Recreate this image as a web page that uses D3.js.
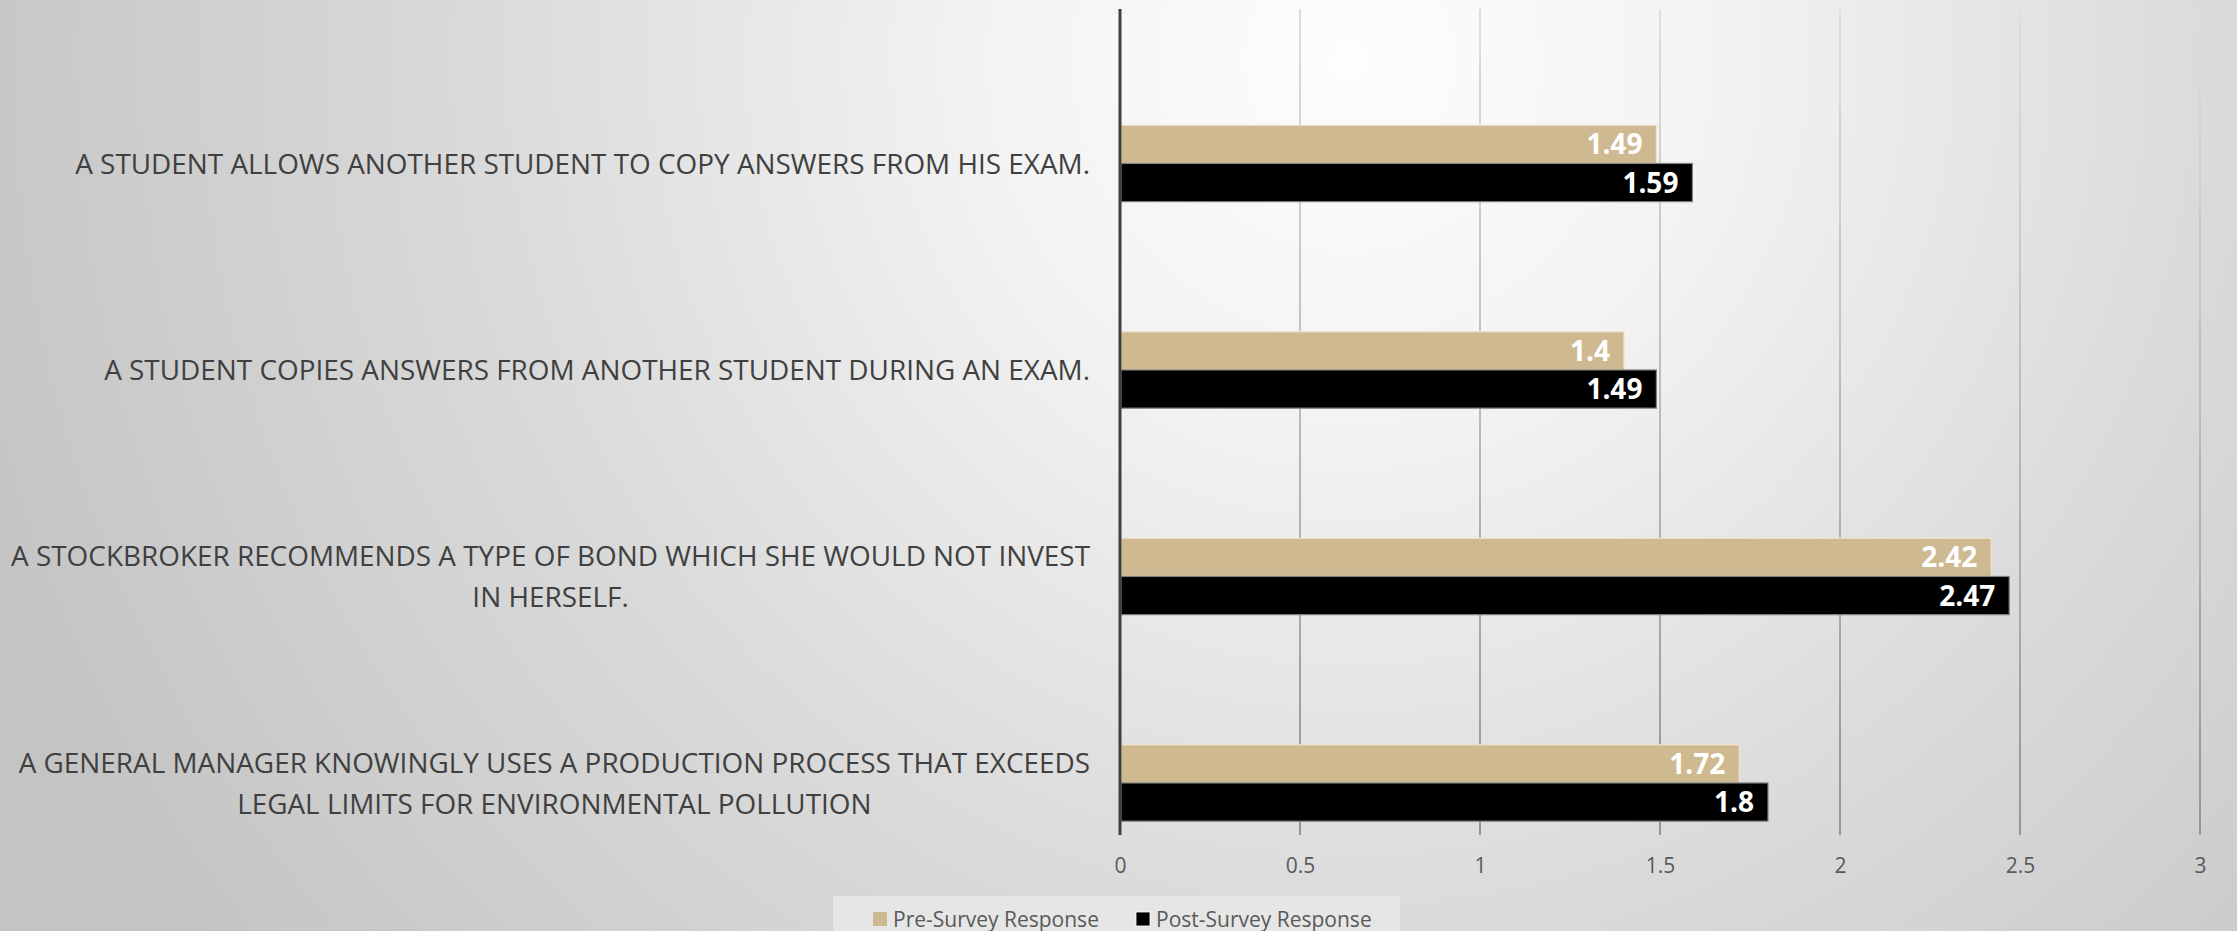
<!DOCTYPE html>
<html>
<head>
<meta charset="utf-8">
<script src="https://cdn.jsdelivr.net/npm/d3@7"></script>
<style>
  html, body { margin: 0; padding: 0; overflow: hidden; }
  svg { display: block; }
</style>
</head>
<body>
<svg id="chart" width="2237" height="931"></svg>
<script>
// Survey statements (line breaks mark where long statements wrap)
const categories = [
  "A STUDENT ALLOWS ANOTHER STUDENT TO COPY ANSWERS FROM HIS EXAM.",
  "A STUDENT COPIES ANSWERS FROM ANOTHER STUDENT DURING AN EXAM.",
  "A STOCKBROKER RECOMMENDS A TYPE OF BOND WHICH SHE WOULD NOT INVEST\nIN HERSELF.",
  "A GENERAL MANAGER KNOWINGLY USES A PRODUCTION PROCESS THAT EXCEEDS\nLEGAL LIMITS FOR ENVIRONMENTAL POLLUTION"
];
const seriesNames = ["Pre-Survey Response", "Post-Survey Response"];
const preValues = [1.49, 1.4, 2.42, 1.72];
const postValues = [1.59, 1.49, 2.47, 1.8];
const xTicks = [0, 0.5, 1, 1.5, 2, 2.5, 3];
const seriesColors = ["#CFB991", "#000000"];
const seriesStrokes = ["#eee4d0", "#808080"];

const W = 2237, H = 931;
const svg = d3.select("#chart");
const defs = svg.append("defs");

// slide background: soft radial light from the upper middle
const bg = defs.append("radialGradient").attr("id", "bg")
  .attr("gradientUnits", "userSpaceOnUse")
  .attr("cx", 1350).attr("cy", 60).attr("r", 1450);
bg.append("stop").attr("offset", 0).attr("stop-color", "#fdfdfd");
bg.append("stop").attr("offset", 0.25).attr("stop-color", "#f3f3f3");
bg.append("stop").attr("offset", 0.6).attr("stop-color", "#dadada");
bg.append("stop").attr("offset", 1).attr("stop-color", "#c4c4c4");
svg.append("rect").attr("width", W).attr("height", H).attr("fill", "url(#bg)");

// gridlines darken toward the bottom of the plot
const gg = defs.append("linearGradient").attr("id", "grid")
  .attr("gradientUnits", "userSpaceOnUse")
  .attr("x1", 0).attr("y1", 9).attr("x2", 0).attr("y2", 835);
gg.append("stop").attr("offset", 0).attr("stop-color", "#dedede");
gg.append("stop").attr("offset", 1).attr("stop-color", "#959595");

const plotTop = 9, plotBottom = 835;
const x = d3.scaleLinear().domain([0, 3]).range([1120, 2200]);
const y0 = d3.scaleBand().domain(categories).range([plotTop, plotBottom]);
const bw = y0.bandwidth();
const y1 = d3.scaleBand().domain(seriesNames).range([bw * 0.563, bw * 0.933]);

// vertical gridlines
svg.append("g").selectAll("line")
  .data(xTicks.filter(d => d > 0))
  .join("line")
  .attr("x1", d => x(d)).attr("x2", d => x(d))
  .attr("y1", plotTop).attr("y2", plotBottom)
  .attr("stroke", "url(#grid)").attr("stroke-width", 2);

// x axis tick labels
const xAxis = d3.axisBottom(x).tickValues(xTicks).tickSize(0).tickPadding(0)
  .tickFormat(d3.format("~g"));
const gx = svg.append("g").attr("transform", `translate(0,${plotBottom})`).call(xAxis);
gx.select(".domain").remove();
gx.selectAll("text")
  .attr("y", 31).attr("dy", "0.35em")
  .attr("fill", "#595959")
  .style("font-family", "'Open Sans', sans-serif")
  .style("font-size", "21px");

// bars
const rows = categories.map((c, i) => ({ cat: c, values: [preValues[i], postValues[i]] }));
const groups = svg.append("g").selectAll("g")
  .data(rows).join("g")
  .attr("transform", d => `translate(0,${y0(d.cat)})`);

groups.selectAll("rect")
  .data(d => d.values.map((v, k) => ({ v, k, name: seriesNames[k] })))
  .join("rect")
  .attr("x", x(0) + 1)
  .attr("y", d => y1(d.name))
  .attr("width", d => x(d.v) - x(0) - 1)
  .attr("height", y1.bandwidth())
  .attr("fill", d => seriesColors[d.k])
  .attr("stroke", d => seriesStrokes[d.k])
  .attr("stroke-width", 1.2);

// value labels inside bar ends
groups.selectAll("text.val")
  .data(d => d.values.map((v, k) => ({ v, k, name: seriesNames[k] })))
  .join("text")
  .attr("class", "val")
  .attr("x", d => x(d.v) - 14)
  .attr("y", d => y1(d.name) + y1.bandwidth() / 2)
  .attr("dy", "0.36em")
  .attr("text-anchor", "end")
  .attr("fill", "#ffffff")
  .style("font-family", "'Open Sans', sans-serif")
  .style("font-weight", "700")
  .style("font-size", "28px")
  .text(d => d3.format("~g")(d.v));

// category axis line
svg.append("line")
  .attr("x1", x(0)).attr("x2", x(0))
  .attr("y1", plotTop).attr("y2", plotBottom)
  .attr("stroke", "#404040").attr("stroke-width", 3);

// category labels: block right-aligned to the axis, lines centred inside it
const labelRight = 1090, lineH = 41;
rows.forEach(r => {
  const lines = r.cat.split("\n");
  const cy = y0(r.cat) + (y1(seriesNames[0]) + y1(seriesNames[1]) + y1.bandwidth()) / 2;
  const g = svg.append("g");
  const texts = lines.map((ln, i) => g.append("text")
    .attr("y", cy + (i - (lines.length - 1) / 2) * lineH)
    .attr("dy", "0.36em")
    .attr("text-anchor", "middle")
    .attr("fill", "#404040")
    .style("font-family", "'Open Sans', sans-serif")
    .style("font-size", "27.9px")
    .text(ln));
  const widest = d3.max(texts, t => t.node().getComputedTextLength());
  texts.forEach(t => t.attr("x", labelRight - widest / 2));
});

// legend
const lg = svg.append("g");
lg.append("rect").attr("x", 833).attr("y", 896).attr("width", 567).attr("height", 40)
  .attr("fill", "#e6e6e6");
const legX = [873, 1136];
seriesNames.forEach((name, k) => {
  lg.append("rect").attr("x", legX[k]).attr("y", 912).attr("width", 14).attr("height", 14)
    .attr("fill", seriesColors[k]).attr("stroke", k ? "#ffffff" : "none").attr("stroke-width", 0.8);
  lg.append("text").attr("x", legX[k] + 20).attr("y", 919).attr("dy", "0.36em")
    .attr("fill", "#595959")
    .style("font-family", "'Open Sans', sans-serif")
    .style("font-size", "21px")
    .text(name);
});
</script>
</body>
</html>
